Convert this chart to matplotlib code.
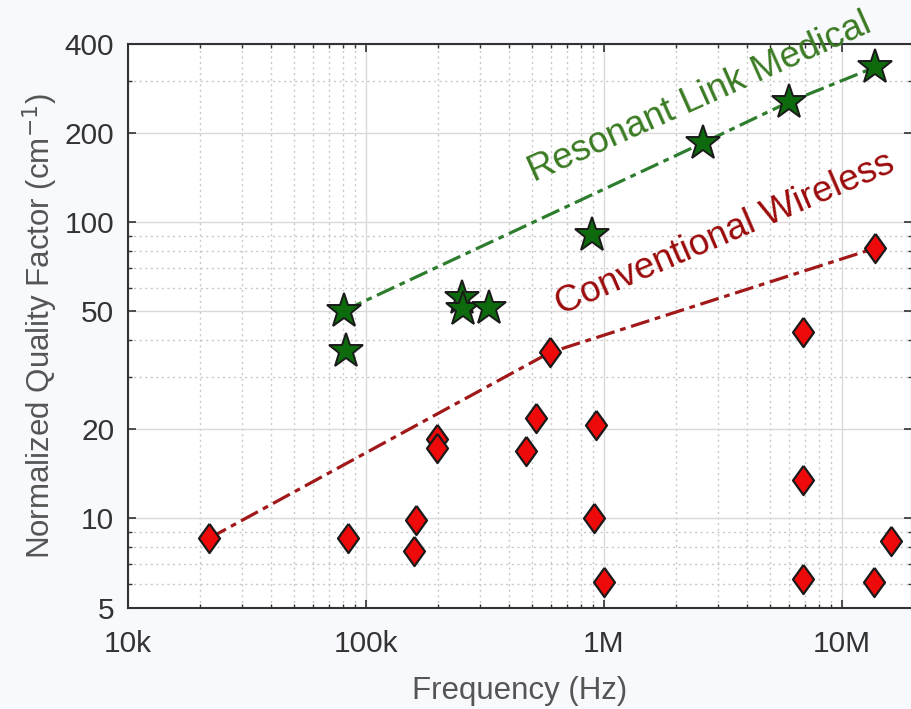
import matplotlib
matplotlib.use("Agg")
import matplotlib.pyplot as plt
from matplotlib.ticker import FixedLocator, FixedFormatter, LogLocator, NullFormatter

plt.rcParams['font.family'] = ['Liberation Sans', 'DejaVu Sans']

# Resonant link medical (stars)
res_freq = [80.8e3, 82.4e3, 253e3, 255e3, 329e3, 891e3, 2.61e6, 5.99e6, 13.8e6]
res_q = [50.2, 36.6, 55.5, 51.0, 51.4, 90.2, 185, 254, 333]
# trend line through selected resonant points
res_line_freq = [80.8e3, 2.61e6, 5.99e6, 13.8e6]
res_line_q = [50.2, 185, 254, 333]

# Conventional wireless (diamonds)
conv_freq = [21.9e3, 84e3, 162e3, 159e3, 199e3, 199e3, 593e3, 518e3, 470e3,
             925e3, 908e3, 1.0e6, 6.86e6, 6.86e6, 6.86e6, 13.6e6, 16.1e6, 13.8e6]
conv_q = [8.57, 8.57, 9.85, 7.75, 18.5, 17.3, 36.3, 21.8, 16.9,
          20.7, 10.0, 6.1, 42.4, 13.5, 6.24, 6.1, 8.37, 81.6]
conv_line_freq = [21.9e3, 593e3, 13.8e6]
conv_line_q = [8.57, 36.3, 81.6]

xticks = [1e4, 1e5, 1e6, 1e7]
xticklabels = ['10k', '100k', '1M', '10M']
yticks = [5, 10, 20, 50, 100, 200, 400]
yticklabels = ['5', '10', '20', '50', '100', '200', '400']
yminor = [6, 7, 8, 9, 30, 40, 60, 70, 80, 90, 300]

fig = plt.figure(figsize=(9.12, 7.09), dpi=100, facecolor='#f8f9fd')
ax = fig.add_axes([0.1404, 0.1429, 0.8596, 0.7957])
ax.set_facecolor('white')
ax.set_xscale('log')
ax.set_yscale('log')
ax.set_xlim(1e4, 1.97e7)
ax.set_ylim(5, 400)

ax.xaxis.set_major_locator(FixedLocator(xticks))
ax.xaxis.set_major_formatter(FixedFormatter(xticklabels))
ax.xaxis.set_minor_locator(LogLocator(base=10, subs=[2, 3, 4, 5, 6, 7, 8, 9]))
ax.xaxis.set_minor_formatter(NullFormatter())
ax.yaxis.set_major_locator(FixedLocator(yticks))
ax.yaxis.set_major_formatter(FixedFormatter(yticklabels))
ax.yaxis.set_minor_locator(FixedLocator(yminor))
ax.yaxis.set_minor_formatter(NullFormatter())

ax.grid(True, which='major', color='#d9d9d9', linestyle='-', linewidth=1.0)
ax.grid(True, which='minor', color='#c8c8c8', linestyle=(0, (1.5, 2.5)), linewidth=1.0)
ax.set_axisbelow(True)

ax.tick_params(which='both', direction='in', top=True, right=True, color='#333333')
ax.tick_params(which='major', length=6, width=1.2)
ax.tick_params(which='minor', length=3, width=1.0)
ax.tick_params(axis='x', which='major', labelsize=21.5, labelcolor='#333333', pad=16)
ax.tick_params(axis='y', which='major', labelsize=21.5, labelcolor='#333333', pad=10)
for s in ax.spines.values():
    s.set_color('#333333')
    s.set_linewidth(1.5)

ax.plot(res_line_freq, res_line_q, color='#2e7d2e', lw=2.3,
        linestyle=(0, (6, 1.8, 1.8, 1.8)), zorder=2)
ax.plot(conv_line_freq, conv_line_q, color='#a01818', lw=2.3,
        linestyle=(0, (6, 1.8, 1.8, 1.8)), zorder=2)

diamond = [(0, 1), (0.72, 0), (0, -1), (-0.72, 0), (0, 1)]
ax.plot(conv_freq, conv_q, linestyle='none', marker=diamond, markersize=21,
        markerfacecolor='#ee0a0a', markeredgecolor='#1a1a1a', markeredgewidth=1.6, zorder=3)
ax.plot(res_freq, res_q, linestyle='none', marker='*', markersize=26,
        markerfacecolor='#0d6b0d', markeredgecolor='#1a1a1a', markeredgewidth=1.4, zorder=4)

ax.text(508e3, 136, 'Resonant Link Medical', color='#3a7a22', fontsize=26.5,
        rotation=24, rotation_mode='anchor', ha='left', va='baseline', zorder=5)
ax.text(660e3, 48.5, 'Conventional Wireless', color='#9b0a0a', fontsize=26.5,
        rotation=23.3, rotation_mode='anchor', ha='left', va='baseline', zorder=5)

ax.set_xlabel('Frequency (Hz)', fontsize=22.5, color='#555555', labelpad=13)
ax.set_ylabel('Normalized Quality Factor (cm$^{-1}$)', fontsize=22.5, color='#555555', labelpad=3)

fig.savefig('out.png', dpi=100, facecolor=fig.get_facecolor())
